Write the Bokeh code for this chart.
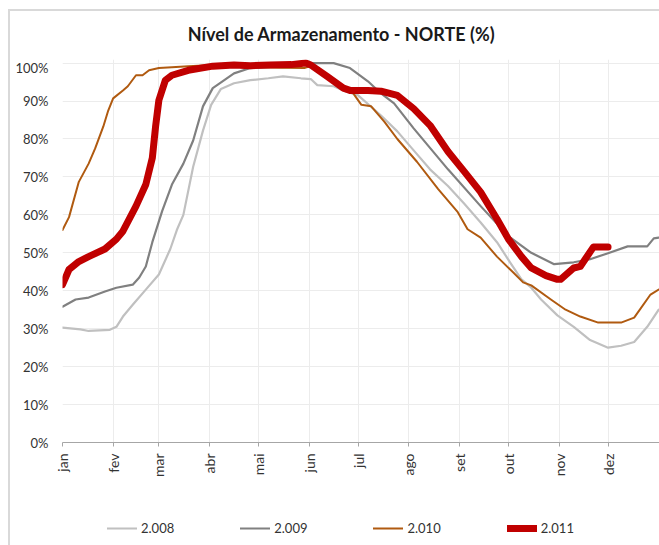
from bokeh.plotting import figure
from bokeh.models import FixedTicker, PrintfTickFormatter, Legend, LegendItem, Range1d, Label
from bokeh.layouts import column
from bokeh.embed import file_html
from bokeh.resources import INLINE
from math import pi

# ---- data (day of year, % stored) ----
title_text = "Nível de Armazenamento - NORTE (%)"
month_ticks = [0, 31, 59, 90, 120, 151, 181, 212, 243, 273, 304, 334]
month_labels = ["jan", "fev", "mar", "abr", "mai", "jun", "jul", "ago", "set", "out", "nov", "dez"]

days_2008 = [0, 11, 16, 29, 33, 37, 43, 51, 59, 66, 70, 74, 80, 86, 91, 97, 105, 115, 126, 135, 146, 152,
             156, 166, 172, 181, 195, 205, 215, 225, 236, 246, 256, 266, 274, 281, 287, 293, 303, 313, 323,
             334, 342, 350, 358, 365]
vals_2008 = [30.3, 29.8, 29.4, 29.7, 30.5, 33.2, 36.3, 40.3, 44.3, 51.0, 56.0, 60.0, 72.7, 82.2, 89.0, 93.2,
             94.7, 95.5, 96.0, 96.5, 96.0, 95.8, 94.2, 93.9, 92.8, 91.5, 86.2, 82.0, 77.0, 72.0, 67.6, 62.9,
             58.0, 52.8, 47.5, 43.0, 40.8, 37.7, 33.5, 30.5, 27.0, 25.0, 25.5, 26.5, 30.5, 35.0]

days_2009 = [0, 8, 16, 26, 33, 43, 47, 51, 55, 61, 67, 74, 80, 86, 92, 105, 115, 135, 152, 166, 176, 187,
             195, 203, 215, 236, 256, 273, 287, 301, 313, 323, 334, 346, 358, 362, 365]
vals_2009 = [35.8, 37.7, 38.2, 39.8, 40.8, 41.6, 43.5, 46.4, 52.8, 61.0, 68.0, 73.5, 79.6, 88.6, 93.4, 97.3,
             98.7, 99.2, 100.0, 100.0, 98.7, 95.2, 92.0, 89.4, 82.8, 72.0, 62.3, 54.4, 50.0, 47.0, 47.5,
             48.3, 49.9, 51.7, 51.7, 53.8, 54.0]

days_2010 = [0, 4, 10, 16, 20, 25, 28, 31, 37, 40, 45, 49, 53, 59, 67, 77, 92, 115, 134, 148, 152, 162,
             172, 178, 183, 189, 197, 205, 217, 230, 242, 248, 256, 266, 276, 282, 287, 299, 308, 317, 328,
             342, 350, 360, 365]
vals_2010 = [56.0, 59.4, 68.7, 73.5, 77.5, 83.3, 87.5, 90.7, 92.8, 93.9, 96.8, 96.8, 98.1, 98.7, 98.9, 99.2,
             99.5, 99.0, 98.8, 98.7, 99.2, 96.5, 93.3, 92.0, 89.0, 88.6, 84.6, 80.0, 74.0, 66.8, 60.7, 56.2,
             54.0, 49.0, 44.8, 42.2, 41.4, 37.7, 35.0, 33.2, 31.6, 31.6, 32.9, 39.0, 40.3]

days_2011 = [0, 4, 10, 16, 26, 33, 37, 45, 51, 55, 57, 59, 63, 67, 77, 92, 105, 115, 127, 140, 149, 152,
             162, 172, 176, 187, 195, 205, 215, 225, 236, 246, 256, 266, 273, 281, 287, 296, 303, 305, 313,
             317, 325, 334]
vals_2011 = [41.6, 45.6, 47.7, 49.0, 51.0, 53.6, 55.7, 62.3, 68.0, 75.0, 83.3, 90.2, 95.5, 96.8, 98.1, 99.2,
             99.5, 99.3, 99.5, 99.6, 100.0, 99.5, 96.5, 93.4, 92.8, 92.8, 92.6, 91.5, 88.0, 83.6, 76.7, 71.4,
             66.0, 58.9, 53.6, 49.0, 46.0, 44.0, 43.0, 43.0, 46.0, 46.4, 51.5, 51.5]

series_names = ["2.008", "2.009", "2.010", "2.011"]
series_colors = ["#c0c0c0", "#808080", "#b05a10", "#c00000"]
series_widths = [2.2, 2.2, 2.0, 7]

FONT = "Lato"


def strip(height):
    # frame of the strip is aligned with the main chart's frame (597 px wide)
    f = figure(width=649, height=height, output_backend="svg", toolbar_location=None,
               x_range=Range1d(0, 597), y_range=Range1d(0, height),
               min_border_left=0, min_border_right=0, min_border_top=0, min_border_bottom=0)
    f.axis.visible = False
    f.grid.visible = False
    f.outline_line_color = None
    f.border_fill_color = "white"
    return f


# title strip
pt = strip(48)
pt.add_layout(Label(x=279, y=26, text=title_text, text_font=FONT, text_font_style="bold",
                    text_font_size="18px", text_color="#1a1a1a",
                    text_align="center", text_baseline="middle"))

# main chart
p = figure(width=649, height=446, output_backend="svg", toolbar_location=None,
           x_range=Range1d(0, 365.5), y_range=Range1d(0, 100.95),
           min_border_left=52, min_border_right=0, min_border_top=0, min_border_bottom=63)
p.title.visible = False
p.outline_line_color = None
p.background_fill_color = "white"
p.border_fill_color = "white"

renderers = []
for d, v, c, w in zip([days_2008, days_2009, days_2010, days_2011],
                      [vals_2008, vals_2009, vals_2010, vals_2011],
                      series_colors, series_widths):
    r = p.line(d, v, line_color=c, line_width=w, line_join="round", line_cap="round")
    renderers.append(r)

p.xaxis.ticker = FixedTicker(ticks=month_ticks)
p.xaxis.major_label_overrides = {t: l for t, l in zip(month_ticks, month_labels)}
p.xaxis.major_label_orientation = pi / 2
p.xaxis.axis_line_color = "#a6a6a6"
p.xaxis.major_tick_line_color = "#a6a6a6"
p.xaxis.major_tick_out = 4
p.xaxis.major_tick_in = 0
p.xaxis.minor_tick_line_color = None
p.xaxis.major_label_standoff = 7

p.yaxis.ticker = FixedTicker(ticks=list(range(0, 101, 10)))
p.yaxis.formatter = PrintfTickFormatter(format="%d%%")
p.yaxis.axis_line_color = None
p.yaxis.major_tick_line_color = None
p.yaxis.minor_tick_line_color = None
p.yaxis.major_tick_out = 0
p.yaxis.major_label_standoff = 14

for ax in (p.xaxis, p.yaxis):
    ax.major_label_text_font = FONT
    ax.major_label_text_color = "#333333"
p.yaxis.major_label_text_font_size = "13px"
p.xaxis.major_label_text_font_size = "14px"

p.xgrid.ticker = FixedTicker(ticks=month_ticks)
p.xgrid.grid_line_color = "#ececec"
p.ygrid.grid_line_color = "#ececec"

# legend strip below the chart (legend glyphs mirror the chart's line styles)
pl = strip(40)
leg_renderers = []
for c, w in zip(series_colors, series_widths):
    leg_renderers.append(pl.line([-5, -4], [-5, -4], line_color=c, line_width=w, line_cap="round"))

legend = Legend(items=[LegendItem(label=n, renderers=[r]) for n, r in zip(series_names, leg_renderers)],
                orientation="horizontal", location=(45, 9),
                label_text_font=FONT, label_text_font_size="13px", label_text_color="#333333",
                glyph_width=30, glyph_height=16, label_standoff=4, spacing=66,
                padding=0, margin=0, border_line_color=None, background_fill_alpha=0)
pl.add_layout(legend, "center")

layout = column(pt, p, pl, spacing=0)
layout.styles = {"margin-left": "8px", "margin-top": "9px",
                 "border-left": "2px solid #d9d9d9", "border-top": "2px solid #d9d9d9"}

open("out.html", "w").write(file_html(layout, INLINE))
